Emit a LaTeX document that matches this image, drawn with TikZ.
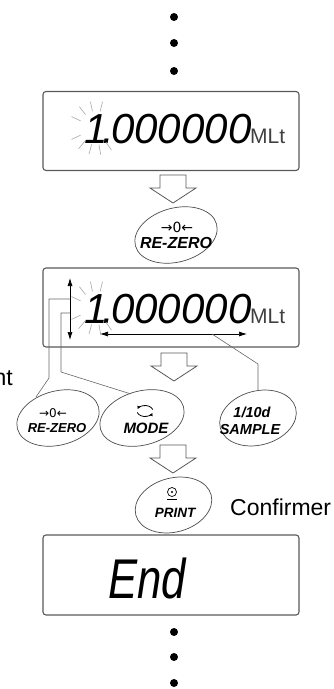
\documentclass[tikz,border=0pt]{standalone}
\usepackage{fontspec}
\setmainfont{Liberation Sans}
\newfontfamily\endfont[FakeStretch=0.78]{Liberation Sans}
\newfontfamily\symfont{DejaVu Sans}
\usetikzlibrary{shapes.geometric,arrows.meta}
\begin{document}
\begin{tikzpicture}[x=1pt,y=-1pt,
  lcdbox/.style={draw=black!65, line width=1.1pt, rounded corners=3pt, minimum width=256pt, minimum height=79pt, inner sep=0pt},
  btn/.style={ellipse, draw=black!70, line width=0.7pt, inner sep=0pt, minimum height=54pt, rotate=15},
  btntext/.style={inner sep=0pt, anchor=base, font=\bfseries\itshape},
  conn/.style={draw=black!60, line width=0.6pt},
  dispdigits/.style={inner sep=0pt, anchor=base west, font=\itshape\fontsize{42}{42}\selectfont},
  unit/.style={inner sep=0pt, anchor=base west, text=black!75, font=\fontsize{21}{21}\selectfont},
  dot/.style={circle, fill=black, inner sep=0pt, minimum size=8pt},
  flash/.style={draw=black!35, line width=0.6pt},
  dblarrow/.style={draw=black, line width=0.7pt, {Latex[length=8pt,width=5pt]}-{Latex[length=8pt,width=5pt]}},
  hollow/.pic={\draw[fill=white, draw=black!65, line width=0.8pt] (-13,0) -- (13,0) -- (13,13) -- (23,13) -- (0,28) -- (-23,13) -- (-13,13) -- cycle;},
  label/.style={inner sep=0pt, font=\fontsize{23}{23}\selectfont}
]
\useasboundingbox (0,0) rectangle (333,689);

% top dots
\node[dot] (t1) at (174,17) {};
\node[dot] (t2) at (174,43) {};
\node[dot] (t3) at (174,71) {};

% display 1
\node[lcdbox] (box1) at (171,131) {};
\node[dispdigits] (d1) at (84,143) {1\kern-5pt.\kern-3pt000000};
\node[unit] (u1) at (250,143) {MLt};
\foreach \a in {55,80,105,130,155,205,232,258,284}
  \draw[flash] (96,128) ++(\a:17) -- ++(\a:10);

\pic at (173,175) {hollow};

% RE-ZERO (top)
\node[btn, minimum width=84pt] (rz1) at (176,235) {};
\node[btntext, font=\symfont\fontsize{14}{14}\selectfont] (rz1a) at (177,232) {→0←};
\node[btntext, font=\bfseries\itshape\fontsize{16}{16}\selectfont] (rz1b) at (176,248) {RE-ZERO};

% display 2
\node[lcdbox] (box2) at (171,307.5) {};
\node[dispdigits] (d2) at (84,323) {1\kern-5pt.\kern-3pt000000};
\node[unit] (u2) at (250,323) {MLt};
\foreach \a in {55,80,105,130,155,205,232,258,284}
  \draw[flash] (96,308) ++(\a:17) -- ++(\a:10);
\coordinate (ud1) at (70,278);
\coordinate (ud2) at (70,340);
\coordinate (udA) at (70,299);
\coordinate (udB) at (70,313);
\coordinate (lr1) at (100,334);
\coordinate (lr2) at (247,334);
\coordinate (lrA) at (212,334);
\draw[dblarrow] (ud1) -- (ud2);
\draw[dblarrow] (lr1) -- (lr2);

\pic at (174,353) {hollow};

% left cut text
\node[label, anchor=base east] (nt) at (13,385) {nt};

% button row
\node[btn, minimum width=84pt] (rz2) at (58,418) {};
\node[btntext, font=\symfont\fontsize{12}{12}\selectfont] (rz2a) at (53,417) {→0←};
\node[btntext, font=\bfseries\itshape\fontsize{13}{13}\selectfont] (rz2b) at (57,432) {RE-ZERO};

\node[btn, minimum width=86pt] (mode) at (142,418) {};
\coordinate (mc) at (145,411);
\draw[line width=0.8pt, -{Latex[length=3pt,width=3.5pt]}] (mc) ++(165:8 and 5.5) arc[start angle=165, end angle=20, x radius=8, y radius=5.5];
\draw[line width=0.8pt, -{Latex[length=3pt,width=3.5pt]}] (mc) ++(-15:8 and 5.5) arc[start angle=-15, end angle=-160, x radius=8, y radius=5.5];
\node[btntext, font=\bfseries\itshape\fontsize{15}{15}\selectfont] (modet) at (146,433) {MODE};

\node[btn, minimum width=78pt] (samp) at (258,418) {};
\node[btntext, font=\bfseries\itshape\fontsize{14.5}{14.5}\selectfont] (sampa) at (252,417) {1/10d};
\node[btntext, font=\bfseries\itshape\fontsize{14.5}{14.5}\selectfont] (sampb) at (250,434) {SAMPLE};

% connector ends on the button outlines
\coordinate (rz2in) at (36,397);
\coordinate (modein) at (131,394);

% connectors
\draw[conn] (udA) -- (49,299) -- (49,378) -- (rz2in);
\draw[conn] (udB) -- (61,313) -- (61,372) -- (modein);
\draw[conn] (lrA) -- (258,364) -- (samp);

\pic at (173,445) {hollow};

% PRINT
\node[btn, minimum width=78pt] (prt) at (173.5,505) {};
\node[circle, draw, line width=0.7pt, inner sep=0pt, minimum size=9pt] (prc) at (172,492) {};
\node[circle, fill, inner sep=0pt, minimum size=2.2pt] (prd) at (prc.center) {};
\draw[line width=0.7pt] (167,499) -- (177,499);
\node[btntext, font=\bfseries\itshape\fontsize{13.5}{13.5}\selectfont] (prtt) at (175,517) {PRINT};
\node[label, anchor=base west] (conf) at (230,515) {Confirmer};

% display 3
\node[lcdbox, minimum height=80pt] (box3) at (171,575) {};
\node[inner sep=0pt, anchor=base west, font=\endfont\itshape\fontsize{56}{56}\selectfont] (endt) at (108,598) {End};

% bottom dots
\node[dot] (b1) at (174,632) {};
\node[dot] (b2) at (174,657) {};
\node[dot] (b3) at (174,683) {};
\end{tikzpicture}
\end{document}
